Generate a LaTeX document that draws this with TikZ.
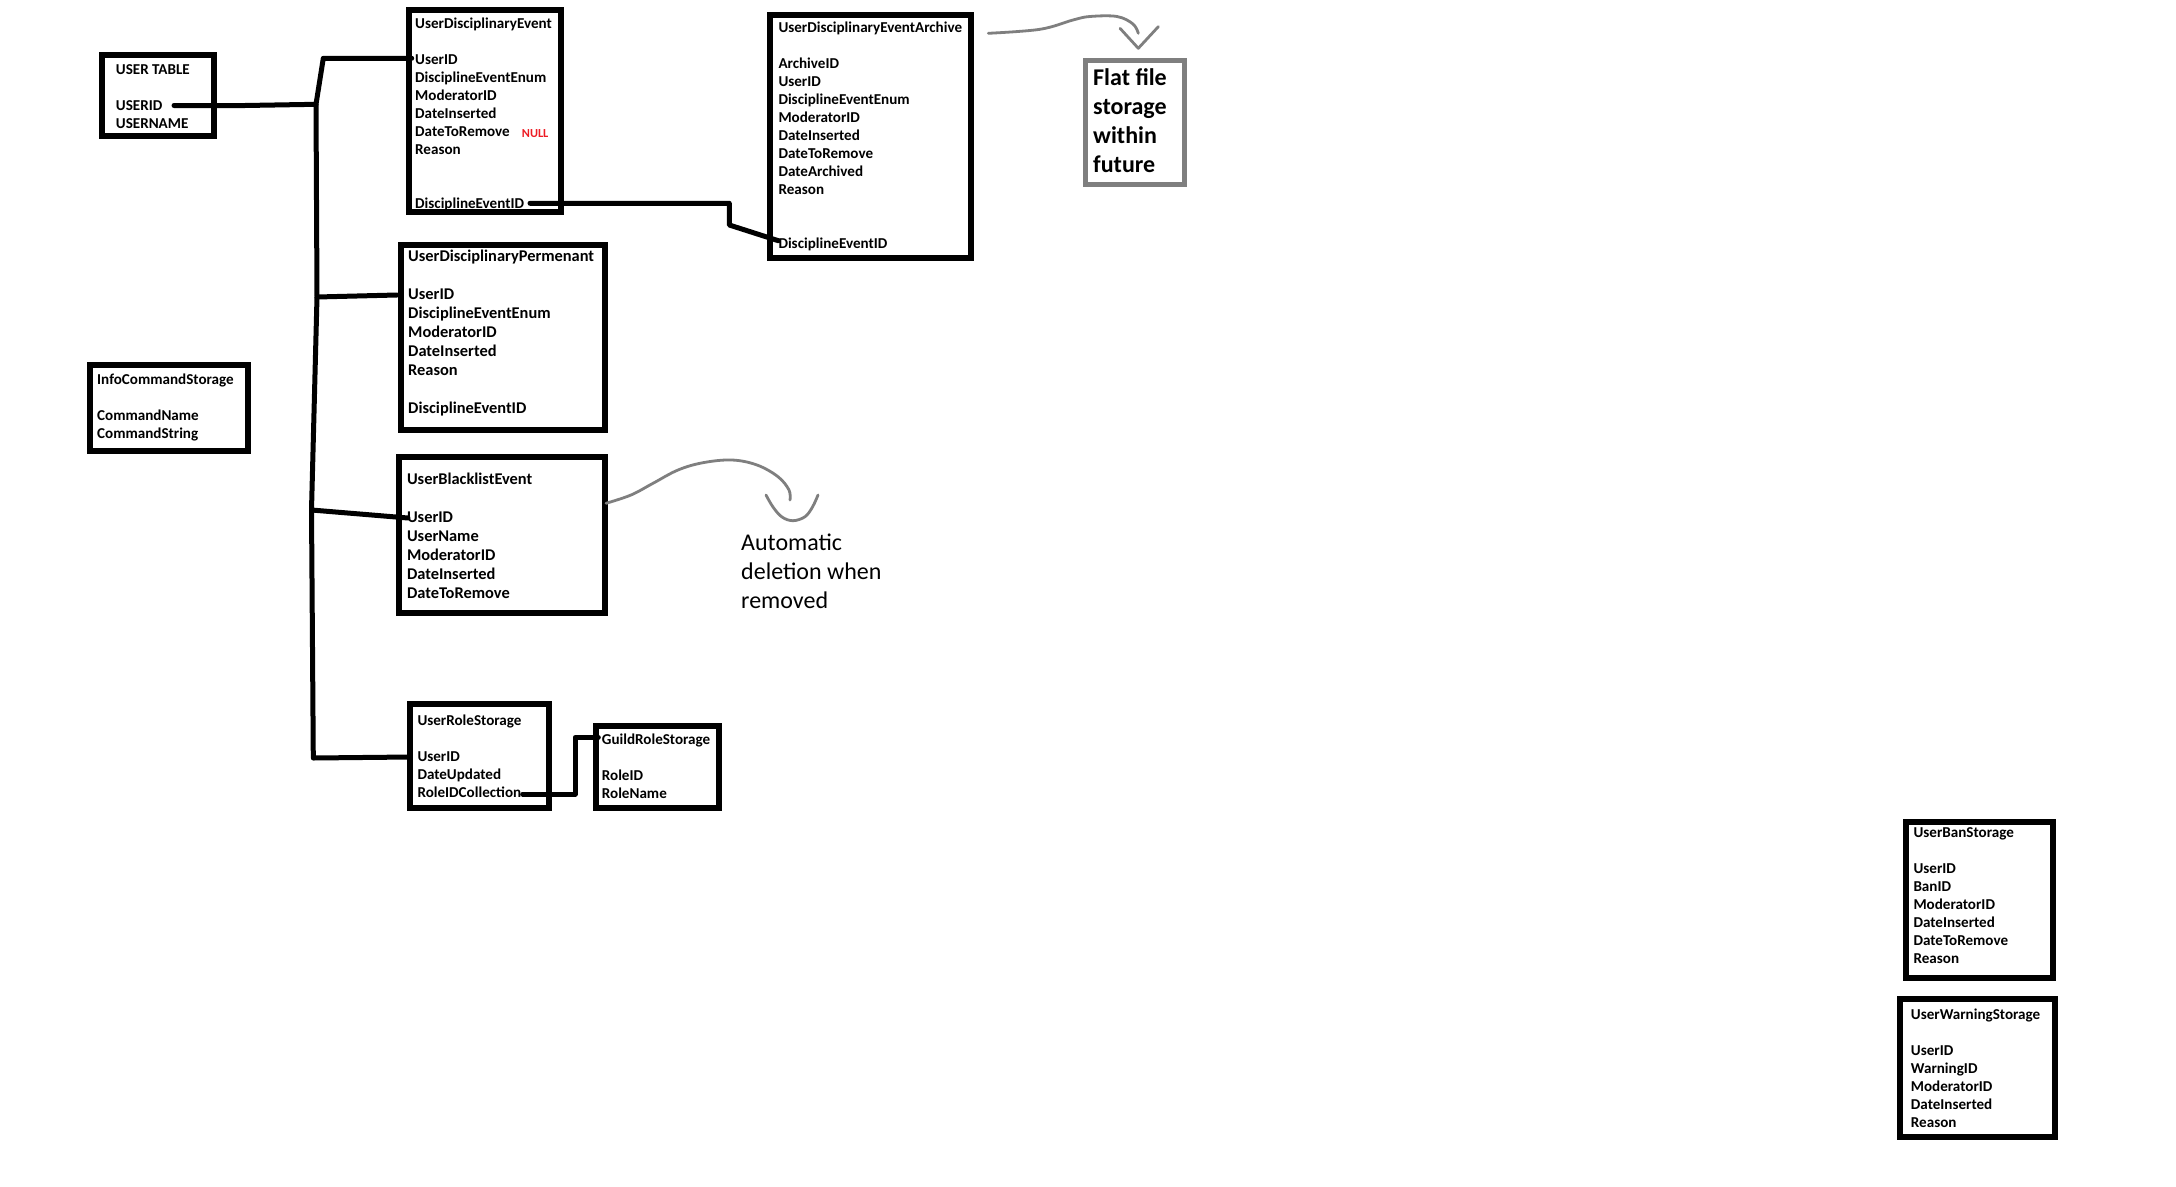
\documentclass[tikz,border=0pt]{standalone}
\usepackage{fontspec}
\setmainfont{Carlito}
\definecolor{notegray}{RGB}{127,127,127}
\definecolor{nullred}{RGB}{237,28,36}
% one text node per line: name, style, x, first baseline, line step, {index/text,...}
\newcommand\textlines[6]{%
  \foreach \k/\t in {#6} \node[#2] (#1-\k) at (#3,{#4+#5*\k}) {\t};}
\begin{document}
\begin{tikzpicture}[x=1pt,y=-1pt,
  tbl/.style={draw=black, line width=5.5pt, inner sep=0pt, outer sep=0pt},
  notebox/.style={draw=notegray, line width=4.7pt, inner sep=0pt, outer sep=0pt},
  field/.style={anchor=base west, inner sep=0pt, font=\fontsize{15.1}{18}\selectfont\bfseries},
  fieldlg/.style={field, font=\fontsize{16.4}{19}\selectfont\bfseries},
  notetext/.style={anchor=base west, inner sep=0pt, font=\fontsize{24}{29}\selectfont},
  notebold/.style={notetext, font=\fontsize{24}{29}\selectfont\bfseries},
  nullmark/.style={anchor=base west, inner sep=0pt, text=nullred, font=\fontsize{12.3}{14}\selectfont\bfseries},
  link/.style={draw=black, line width=5pt, line cap=round, line join=round},
  hint/.style={draw=notegray, line width=2.8pt, line cap=round, line join=round}]

\useasboundingbox (0,0) rectangle (2176,1186);
\fill[white] (0,0) rectangle (2176,1186);

% ---- tables ----
\node[tbl, minimum width=112pt, minimum height=81pt]  (ut)  at (158,95.5) {};
\node[tbl, minimum width=152pt, minimum height=202pt] (ude) at (485,111) {};
\node[tbl, minimum width=201pt, minimum height=243pt] (arc) at (870.5,136.5) {};
\node[tbl, minimum width=204pt, minimum height=185pt] (udp) at (503,337.5) {};
\node[tbl, minimum width=158pt, minimum height=86pt]  (ics) at (169,408) {};
\node[tbl, minimum width=206pt, minimum height=156pt] (ube) at (502,535) {};
\node[tbl, minimum width=139pt, minimum height=104pt] (urs) at (479.5,756) {};
\node[tbl, minimum width=123pt, minimum height=82pt]  (grs) at (657.5,767) {};
\node[tbl, minimum width=147pt, minimum height=156pt] (ubs) at (1979.5,900) {};
\node[tbl, minimum width=155pt, minimum height=138pt] (uws) at (1977.5,1068) {};
\node[notebox, minimum width=99pt, minimum height=124pt] (flat) at (1135,122.5) {};

% ---- table fields ----
\textlines{utf}{field}{115.7}{74.3}{18}{0/USER TABLE, 2/USERID, 3/USERNAME}
\textlines{udef}{field}{415}{28.3}{18}{0/UserDisciplinaryEvent, 2/UserID, 3/DisciplineEventEnum, 4/ModeratorID, 5/DateInserted, 6/DateToRemove, 7/Reason, 10/DisciplineEventID}
\node[nullmark] (nullnote) at (521.7,137.5) {NULL};
\textlines{arcf}{field}{778.3}{32.7}{18}{0/UserDisciplinaryEventArchive, 2/ArchiveID, 3/UserID, 4/DisciplineEventEnum, 5/ModeratorID, 6/DateInserted, 7/DateToRemove, 8/DateArchived, 9/Reason, 12/DisciplineEventID}
\textlines{udpf}{fieldlg}{408}{261}{19.1}{0/UserDisciplinaryPermenant, 2/UserID, 3/DisciplineEventEnum, 4/ModeratorID, 5/DateInserted, 6/Reason, 8/DisciplineEventID}
\textlines{icsf}{field}{97}{384.3}{18}{0/InfoCommandStorage, 2/CommandName, 3/CommandString}
\textlines{ubef}{fieldlg}{406.8}{484.3}{19}{0/UserBlacklistEvent, 2/UserID, 3/UserName, 4/ModeratorID, 5/DateInserted, 6/DateToRemove}
\textlines{ursf}{field}{417.3}{725}{18}{0/UserRoleStorage, 2/UserID, 3/DateUpdated, 4/RoleIDCollection}
\textlines{grsf}{field}{601.7}{744}{18}{0/GuildRoleStorage, 2/RoleID, 3/RoleName}
\textlines{ubsf}{field}{1913.3}{837.7}{18}{0/UserBanStorage, 2/UserID, 3/BanID, 4/ModeratorID, 5/DateInserted, 6/DateToRemove, 7/Reason}
\textlines{uwsf}{field}{1910.7}{1019}{18}{0/UserWarningStorage, 2/UserID, 3/WarningID, 4/ModeratorID, 5/DateInserted, 6/Reason}

% ---- notes ----
\textlines{flatt}{notebold}{1093}{85}{29.1}{0/Flat file, 1/storage, 2/within, 3/future}
\textlines{autot}{notetext}{741}{550.3}{29}{0/Automatic, 1/deletion when, 2/removed}

% ---- key links ----
\coordinate (utdot)  at (174,105.5);
\coordinate (utbend) at (245,105.5);
\coordinate (j0)     at (316,104.3);
\coordinate (j0top)  at (323.3,58.3);
\coordinate (udein)  at (411.7,58.3);
\coordinate (j1)     at (317,297);
\coordinate (udpin)  at (397,295);
\coordinate (j2)     at (311.5,510);
\coordinate (ubein)  at (408,518);
\coordinate (j3)     at (313.3,758);
\coordinate (ursin)  at (410,757);

\draw[link] (utdot) -- (utbend) -- (j0) -- (j0top) -- (udein);
\draw[link] (j0) -- (j1) -- (j2) -- (j3) -- (ursin);
\draw[link] (j1) -- (udpin);
\draw[link] (j2) -- (ubein);

\coordinate (udedot) at (530,203.3);
\coordinate (arcb1)  at (729.3,203.3);
\coordinate (arcb2)  at (729.3,225);
\coordinate (arcin)  at (778.3,240.7);
\draw[link] (udedot) -- (arcb1) -- (arcb2) -- (arcin);

\coordinate (ursdot) at (522.7,794);
\coordinate (grsb1)  at (575,794);
\coordinate (grsb2)  at (575,737.3);
\coordinate (grsin)  at (598.3,737.3);
\draw[link] (ursdot) -- (grsb1) -- (grsb2) -- (grsin);

% ---- hand-drawn note arrows ----
\draw[hint] plot[smooth, tension=0.6] coordinates {(988.3,33.3) (1040,29.3) (1073,20) (1090,16.5) (1117,16.5) (1133,24) (1138.3,33.3)};
\draw[hint] (1120,28.3) -- (1138.3,48.3) -- (1158.3,26.7);

\draw[hint] plot[smooth, tension=0.6] coordinates {(606,503.3) (631,495) (653,483.3) (678,470) (703,462.7) (732,460) (757,465) (778,476.7) (789,490) (790,500)};
\draw[hint] plot[smooth, tension=0.6] coordinates {(766,495) (773,507) (782,517) (793,520.7) (805,516.7) (812.5,507) (818,495)};

\end{tikzpicture}
\end{document}
